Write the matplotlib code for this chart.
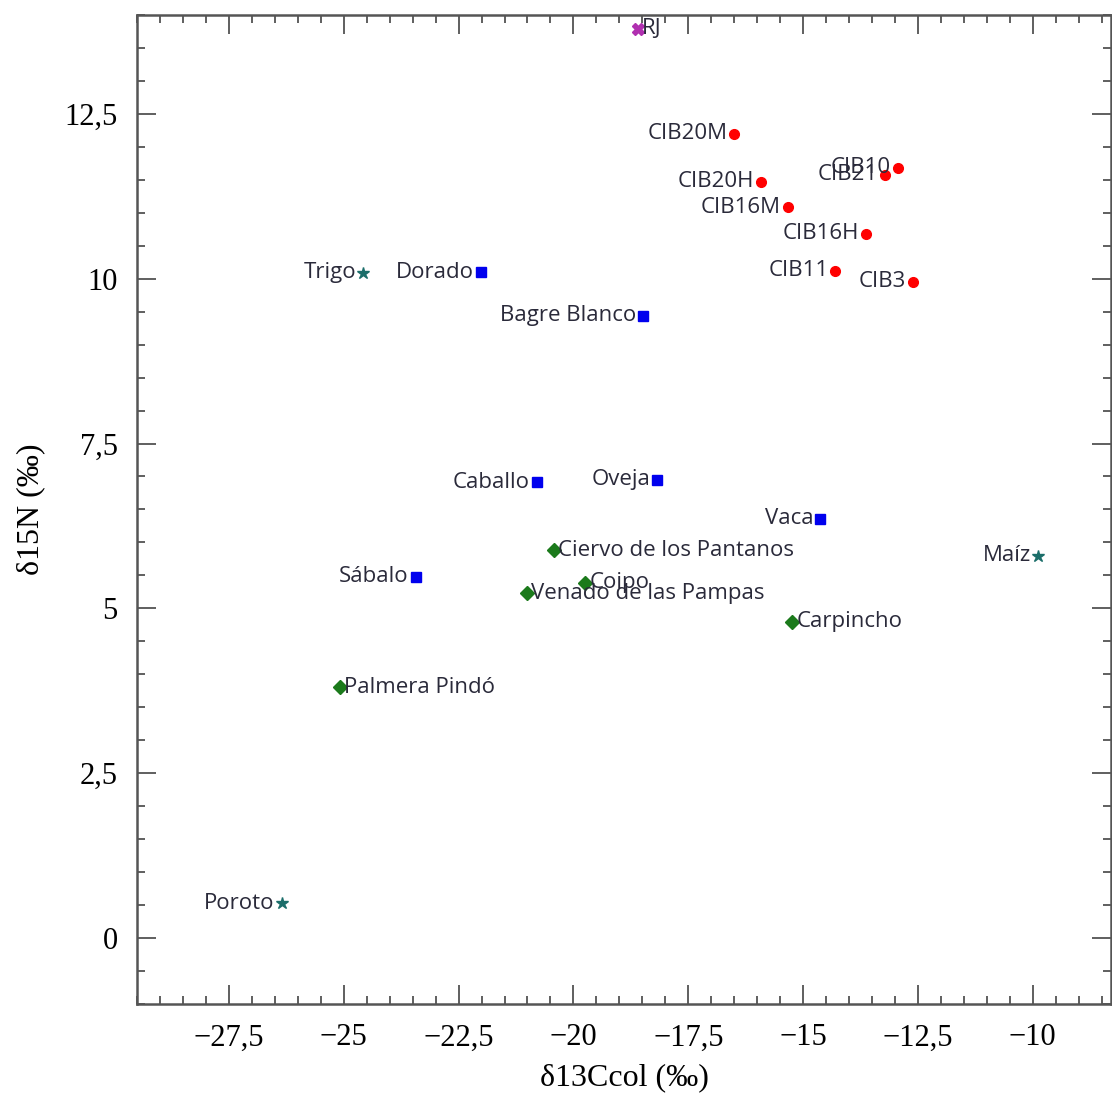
import matplotlib.pyplot as plt
from matplotlib.ticker import MultipleLocator, FuncFormatter

# humanos (circulos rojos)
cib_names = ['CIB20M', 'CIB20H', 'CIB16M', 'CIB16H', 'CIB11', 'CIB3', 'CIB10', 'CIB21']
cib_x = [-16.5, -15.91, -15.33, -13.63, -14.30, -12.61, -12.93, -13.22]
cib_y = [12.2, 11.47, 11.08, 10.68, 10.12, 9.95, 11.68, 11.58]

# fauna (cuadrados azules)
fauna_names = ['Dorado', 'Bagre Blanco', 'Caballo', 'Oveja', 'Vaca', 'Sábalo']
fauna_x = [-22.02, -18.48, -20.80, -18.17, -14.63, -23.43]
fauna_y = [10.1, 9.44, 6.91, 6.95, 6.36, 5.48]

# plantas cultivadas (estrellas)
crop_names = ['Trigo', 'Poroto', 'Maíz']
crop_x = [-24.57, -26.35, -9.89]
crop_y = [10.09, 0.53, 5.80]

# fauna silvestre / plantas (rombos verdes)
wild_names = ['Ciervo de los Pantanos', 'Coipo', 'Venado de las Pampas', 'Carpincho', 'Palmera Pindó']
wild_x = [-20.43, -19.74, -21.02, -15.24, -25.09]
wild_y = [5.88, 5.39, 5.23, 4.80, 3.80]

rj_name = ['RJ']
rj_x = [-18.59]
rj_y = [13.79]

txt = dict(fontsize=16, color='#2a2a3a', family=['Open Sans', 'DejaVu Sans'], va='center')

fig = plt.figure(figsize=(11.12, 11), dpi=100)
ax = fig.add_axes([0.1232, 0.0873, 0.8758, 0.8991])

ax.plot(cib_x, cib_y, 'o', color='#ff0000', ms=7, ls='none')
ax.plot(fauna_x, fauna_y, 's', color='#0000ee', ms=7, ls='none')
ax.plot(crop_x, crop_y, '*', color='#1b6e6a', ms=9, ls='none')
ax.plot(wild_x, wild_y, 'D', color='#1b7a1b', ms=7, ls='none')
ax.plot(rj_x, rj_y, 'X', color='#b030b0', ms=8, ls='none')

for names, xs, ys in [(cib_names, cib_x, cib_y), (fauna_names, fauna_x, fauna_y),
                      (crop_names, crop_x, crop_y)]:
    for n, x, y in zip(names, xs, ys):
        ax.annotate(n, (x, y), xytext=(-5, 0), textcoords='offset points', ha='right', **txt)

for n, x, y in zip(wild_names + rj_name, wild_x + rj_x, wild_y + rj_y):
    ax.annotate(n, (x, y), xytext=(3, 0), textcoords='offset points', ha='left', **txt)

ax.set_xlim(-29.5, -8.3)
ax.set_ylim(-1, 14)
ax.xaxis.set_major_locator(MultipleLocator(2.5))
ax.xaxis.set_minor_locator(MultipleLocator(0.5))
ax.yaxis.set_major_locator(MultipleLocator(2.5))
ax.yaxis.set_minor_locator(MultipleLocator(0.5))

fmt = FuncFormatter(lambda v, p: ('%g' % v).replace('.', ',').replace('-', '\u2212'))
ax.xaxis.set_major_formatter(fmt)
ax.yaxis.set_major_formatter(fmt)

ax.tick_params(which='both', direction='in', top=True, right=True, width=1.2, color='#444444')
ax.tick_params(which='major', length=14, labelsize=22, pad=14)
ax.tick_params(which='minor', length=6)
for lab in ax.get_xticklabels() + ax.get_yticklabels():
    lab.set_family('Liberation Serif')

for s in ax.spines.values():
    s.set_linewidth(1.8)
    s.set_color('#555555')

ax.set_xlabel('δ13Ccol (‰)', fontsize=23, family='Liberation Serif', labelpad=8)
ax.set_ylabel('δ15N (‰)', fontsize=23, family='Liberation Serif', labelpad=14)

plt.savefig('out.png', dpi=100)
